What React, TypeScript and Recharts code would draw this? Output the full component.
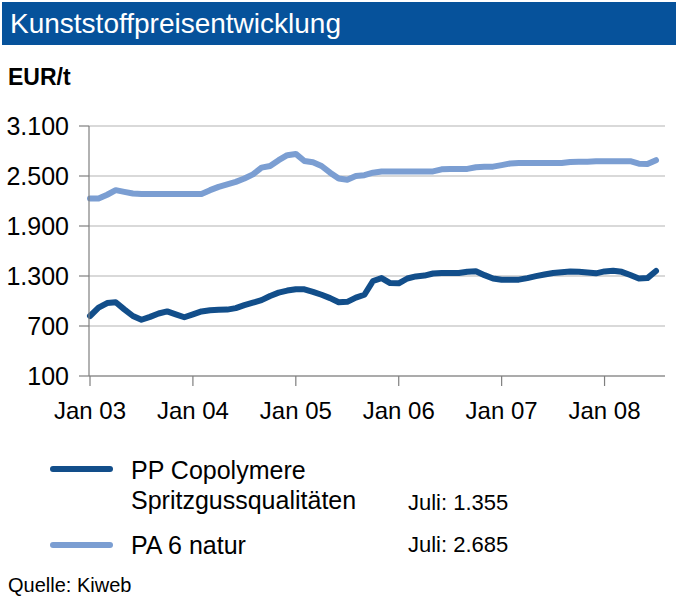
import React from 'react';
import { LineChart, Line, XAxis, YAxis, CartesianGrid } from 'recharts';

const MONTH_NAMES = ['Jan', 'Feb', 'Mär', 'Apr', 'Mai', 'Jun', 'Jul', 'Aug', 'Sep', 'Okt', 'Nov', 'Dez'];
const YEARS = ['03', '04', '05', '06', '07', '08'];
const categories: string[] = YEARS.flatMap((y) => MONTH_NAMES.map((m) => `${m} ${y}`)).slice(0, 67);

// PP Copolymere Spritzgussqualitäten (EUR/t), Jan 03 – Jul 08
const ppValues = [
  820, 920, 975, 985, 900, 820, 775, 810, 850, 875, 840, 805,
  840, 875, 890, 895, 897, 915, 950, 980, 1010, 1060, 1100, 1125,
  1142, 1140, 1110, 1075, 1035, 985, 990, 1040, 1075, 1240, 1275, 1215,
  1212, 1270, 1295, 1305, 1330, 1336, 1336, 1336, 1352, 1356, 1310, 1270,
  1256, 1255, 1256, 1275, 1298, 1318, 1336, 1345, 1355, 1352, 1342, 1332,
  1355, 1364, 1350, 1312, 1270, 1275, 1360,
];

// PA 6 natur (EUR/t), Jan 03 – Jul 08
const paValues = [
  2230, 2230, 2275, 2330, 2310, 2290, 2285, 2285, 2285, 2285, 2285, 2285,
  2285, 2285, 2330, 2370, 2400, 2430, 2470, 2520, 2600, 2620, 2690, 2750,
  2765, 2680, 2665, 2620, 2540, 2470, 2455, 2500, 2510, 2540, 2555, 2555,
  2555, 2555, 2555, 2555, 2555, 2580, 2585, 2585, 2585, 2605, 2612, 2612,
  2630, 2650, 2655, 2655, 2655, 2655, 2655, 2655, 2668, 2670, 2672, 2676,
  2678, 2678, 2678, 2678, 2648, 2645, 2690,
];

const yTicks = [100, 700, 1300, 1900, 2500, 3100];

const seriesNames = ['PP Copolymere', 'Spritzgussqualitäten', 'PA 6 natur'];
const latestLabels = ['Juli: 1.355', 'Juli: 2.685'];

const DARK = '#124e8a';
const LIGHT = '#7b9ed2';
const BAR = '#06529b';
const FONT = '"Liberation Sans", Arial, sans-serif';

const data = categories.map((c, i) => ({ month: c, pp: ppValues[i], pa: paValues[i] }));

const fmt = (v: number) =>
  v >= 1000 ? `${Math.floor(v / 1000)}.${String(v % 1000).padStart(3, '0')}` : String(v);

export default function App() {
  return (
    <div
      style={{
        position: 'absolute',
        left: 0,
        top: 0,
        width: 678,
        height: 600,
        background: '#fff',
        fontFamily: FONT,
        color: '#000',
        overflow: 'hidden',
      }}
    >
      <div
        style={{
          position: 'absolute',
          left: 2,
          top: 2,
          width: 674,
          height: 43,
          background: BAR,
        }}
      />
      <div
        style={{
          position: 'absolute',
          left: 10,
          top: 2,
          height: 43,
          lineHeight: '43px',
          fontSize: 28,
          color: '#fff',
          whiteSpace: 'nowrap',
        }}
      >
        Kunststoffpreisentwicklung
      </div>
      <div
        style={{
          position: 'absolute',
          left: 8,
          top: 63,
          fontSize: 23,
          fontWeight: 'bold',
          lineHeight: '28px',
        }}
      >
        EUR/t
      </div>

      <div style={{ position: 'absolute', left: 0, top: 0 }}>
        <LineChart
          width={678}
          height={440}
          data={data}
          margin={{ top: 126, right: 13, bottom: 14, left: 0 }}
        >
          <CartesianGrid horizontal vertical={false} stroke="#b4b4b4" strokeWidth={1.2} />
          <XAxis
            dataKey="month"
            interval={11}
            height={50}
            padding={{ left: 1, right: 9 }}
            axisLine={{ stroke: '#7f7f7f', strokeWidth: 1.2 }}
            tickLine={{ stroke: '#7f7f7f', strokeWidth: 1.2 }}
            tickSize={10}
            tickMargin={16}
            tick={{ fontSize: 24, fill: '#000', fontFamily: FONT }}
          />
          <YAxis
            domain={[100, 3100]}
            ticks={yTicks}
            width={89}
            interval={0}
            tickFormatter={fmt}
            axisLine={{ stroke: '#7f7f7f', strokeWidth: 1.2 }}
            tickLine={{ stroke: '#7f7f7f', strokeWidth: 1.2 }}
            tickSize={10}
            tickMargin={10}
            tick={{ fontSize: 25, fill: '#000', fontFamily: FONT }}
          />
          <Line
            type="linear"
            dataKey="pa"
            stroke={LIGHT}
            strokeWidth={6}
            dot={false}
            activeDot={false}
            strokeLinejoin="round"
            strokeLinecap="round"
            isAnimationActive={false}
          />
          <Line
            type="linear"
            dataKey="pp"
            stroke={DARK}
            strokeWidth={6}
            dot={false}
            activeDot={false}
            strokeLinejoin="round"
            strokeLinecap="round"
            isAnimationActive={false}
          />
        </LineChart>
      </div>

      {/* Legend */}
      <div style={{ position: 'absolute', left: 50, top: 466, width: 63, height: 6, borderRadius: 3, background: DARK }} />
      <div style={{ position: 'absolute', left: 131, top: 455, fontSize: 25, lineHeight: '30px', whiteSpace: 'nowrap' }}>
        {seriesNames[0]}
      </div>
      <div style={{ position: 'absolute', left: 131, top: 485, fontSize: 25, lineHeight: '30px', whiteSpace: 'nowrap' }}>
        {seriesNames[1]}
      </div>
      <div style={{ position: 'absolute', left: 408, top: 489, fontSize: 22, lineHeight: '28px', whiteSpace: 'nowrap' }}>
        {latestLabels[0]}
      </div>
      <div style={{ position: 'absolute', left: 50, top: 542, width: 63, height: 6, borderRadius: 3, background: LIGHT }} />
      <div style={{ position: 'absolute', left: 131, top: 530, fontSize: 25, lineHeight: '30px', whiteSpace: 'nowrap' }}>
        {seriesNames[2]}
      </div>
      <div style={{ position: 'absolute', left: 408, top: 531, fontSize: 22, lineHeight: '28px', whiteSpace: 'nowrap' }}>
        {latestLabels[1]}
      </div>
      <div style={{ position: 'absolute', left: 8, top: 573, fontSize: 20, lineHeight: '24px', whiteSpace: 'nowrap' }}>
        Quelle: Kiweb
      </div>
    </div>
  );
}
